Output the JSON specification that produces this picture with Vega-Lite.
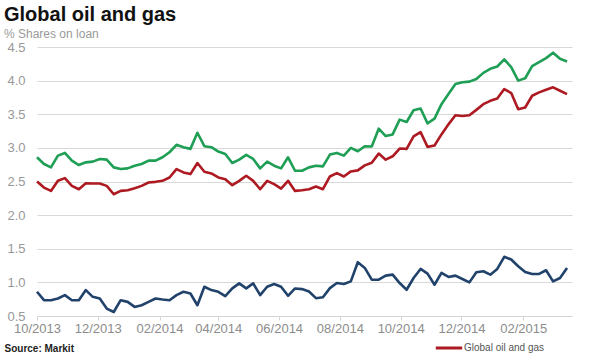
{
  "$schema": "https://vega.github.io/schema/vega-lite/v6.json",
  "width": 535,
  "height": 269,
  "autosize": {"type": "none"},
  "padding": {"left": 37, "top": 47, "right": 18, "bottom": 44},
  "background": "white",
  "config": {"font": "Liberation Sans", "view": {"stroke": null}},
  "title": {
    "text": "Global oil and gas",
    "subtitle": "% Shares on loan",
    "anchor": "start",
    "frame": "group",
    "dx": -33,
    "offset": 1,
    "fontSize": 20,
    "fontWeight": "bold",
    "color": "#111111",
    "subtitleFontSize": 12,
    "subtitleColor": "#9a9a9a",
    "subtitlePadding": 4
  },
  "datasets": {
    "pts": [
      {"date": "2013-10-01", "series": "Upper series", "value": 2.86},
      {"date": "2013-10-08", "series": "Upper series", "value": 2.76},
      {"date": "2013-10-15", "series": "Upper series", "value": 2.71},
      {"date": "2013-10-22", "series": "Upper series", "value": 2.885},
      {"date": "2013-10-29", "series": "Upper series", "value": 2.925},
      {"date": "2013-11-05", "series": "Upper series", "value": 2.81},
      {"date": "2013-11-12", "series": "Upper series", "value": 2.745},
      {"date": "2013-11-19", "series": "Upper series", "value": 2.785},
      {"date": "2013-11-26", "series": "Upper series", "value": 2.795},
      {"date": "2013-12-03", "series": "Upper series", "value": 2.835},
      {"date": "2013-12-10", "series": "Upper series", "value": 2.825},
      {"date": "2013-12-17", "series": "Upper series", "value": 2.71},
      {"date": "2013-12-24", "series": "Upper series", "value": 2.685},
      {"date": "2013-12-31", "series": "Upper series", "value": 2.695},
      {"date": "2014-01-07", "series": "Upper series", "value": 2.735},
      {"date": "2014-01-14", "series": "Upper series", "value": 2.76},
      {"date": "2014-01-21", "series": "Upper series", "value": 2.81},
      {"date": "2014-01-28", "series": "Upper series", "value": 2.81},
      {"date": "2014-02-04", "series": "Upper series", "value": 2.86},
      {"date": "2014-02-11", "series": "Upper series", "value": 2.935},
      {"date": "2014-02-18", "series": "Upper series", "value": 3.045},
      {"date": "2014-02-25", "series": "Upper series", "value": 3.01},
      {"date": "2014-03-04", "series": "Upper series", "value": 2.985},
      {"date": "2014-03-11", "series": "Upper series", "value": 3.225},
      {"date": "2014-03-18", "series": "Upper series", "value": 3.025},
      {"date": "2014-03-25", "series": "Upper series", "value": 3.01},
      {"date": "2014-04-01", "series": "Upper series", "value": 2.945},
      {"date": "2014-04-08", "series": "Upper series", "value": 2.91},
      {"date": "2014-04-15", "series": "Upper series", "value": 2.775},
      {"date": "2014-04-22", "series": "Upper series", "value": 2.825},
      {"date": "2014-04-29", "series": "Upper series", "value": 2.895},
      {"date": "2014-05-06", "series": "Upper series", "value": 2.835},
      {"date": "2014-05-13", "series": "Upper series", "value": 2.695},
      {"date": "2014-05-20", "series": "Upper series", "value": 2.795},
      {"date": "2014-05-27", "series": "Upper series", "value": 2.735},
      {"date": "2014-06-03", "series": "Upper series", "value": 2.695},
      {"date": "2014-06-10", "series": "Upper series", "value": 2.86},
      {"date": "2014-06-17", "series": "Upper series", "value": 2.66},
      {"date": "2014-06-24", "series": "Upper series", "value": 2.66},
      {"date": "2014-07-01", "series": "Upper series", "value": 2.71},
      {"date": "2014-07-08", "series": "Upper series", "value": 2.735},
      {"date": "2014-07-15", "series": "Upper series", "value": 2.725},
      {"date": "2014-07-22", "series": "Upper series", "value": 2.9},
      {"date": "2014-07-29", "series": "Upper series", "value": 2.925},
      {"date": "2014-08-05", "series": "Upper series", "value": 2.885},
      {"date": "2014-08-12", "series": "Upper series", "value": 3.0},
      {"date": "2014-08-19", "series": "Upper series", "value": 2.95},
      {"date": "2014-08-26", "series": "Upper series", "value": 3.025},
      {"date": "2014-09-02", "series": "Upper series", "value": 3.02},
      {"date": "2014-09-09", "series": "Upper series", "value": 3.285},
      {"date": "2014-09-16", "series": "Upper series", "value": 3.175},
      {"date": "2014-09-23", "series": "Upper series", "value": 3.2},
      {"date": "2014-09-30", "series": "Upper series", "value": 3.42},
      {"date": "2014-10-07", "series": "Upper series", "value": 3.385},
      {"date": "2014-10-14", "series": "Upper series", "value": 3.56},
      {"date": "2014-10-21", "series": "Upper series", "value": 3.585},
      {"date": "2014-10-28", "series": "Upper series", "value": 3.365},
      {"date": "2014-11-04", "series": "Upper series", "value": 3.435},
      {"date": "2014-11-11", "series": "Upper series", "value": 3.65},
      {"date": "2014-11-18", "series": "Upper series", "value": 3.8},
      {"date": "2014-11-25", "series": "Upper series", "value": 3.95},
      {"date": "2014-12-02", "series": "Upper series", "value": 3.975},
      {"date": "2014-12-09", "series": "Upper series", "value": 3.985},
      {"date": "2014-12-16", "series": "Upper series", "value": 4.025},
      {"date": "2014-12-23", "series": "Upper series", "value": 4.115},
      {"date": "2014-12-30", "series": "Upper series", "value": 4.175},
      {"date": "2015-01-06", "series": "Upper series", "value": 4.21},
      {"date": "2015-01-13", "series": "Upper series", "value": 4.315},
      {"date": "2015-01-20", "series": "Upper series", "value": 4.2},
      {"date": "2015-01-27", "series": "Upper series", "value": 4.0},
      {"date": "2015-02-03", "series": "Upper series", "value": 4.035},
      {"date": "2015-02-10", "series": "Upper series", "value": 4.215},
      {"date": "2015-02-17", "series": "Upper series", "value": 4.275},
      {"date": "2015-02-24", "series": "Upper series", "value": 4.335},
      {"date": "2015-03-03", "series": "Upper series", "value": 4.415},
      {"date": "2015-03-10", "series": "Upper series", "value": 4.325},
      {"date": "2015-03-17", "series": "Upper series", "value": 4.285},

      {"date": "2013-10-01", "series": "Global oil and gas", "value": 2.5},
      {"date": "2013-10-08", "series": "Global oil and gas", "value": 2.41},
      {"date": "2013-10-15", "series": "Global oil and gas", "value": 2.36},
      {"date": "2013-10-22", "series": "Global oil and gas", "value": 2.51},
      {"date": "2013-10-29", "series": "Global oil and gas", "value": 2.55},
      {"date": "2013-11-05", "series": "Global oil and gas", "value": 2.435},
      {"date": "2013-11-12", "series": "Global oil and gas", "value": 2.385},
      {"date": "2013-11-19", "series": "Global oil and gas", "value": 2.475},
      {"date": "2013-11-26", "series": "Global oil and gas", "value": 2.47},
      {"date": "2013-12-03", "series": "Global oil and gas", "value": 2.47},
      {"date": "2013-12-10", "series": "Global oil and gas", "value": 2.435},
      {"date": "2013-12-17", "series": "Global oil and gas", "value": 2.31},
      {"date": "2013-12-24", "series": "Global oil and gas", "value": 2.36},
      {"date": "2013-12-31", "series": "Global oil and gas", "value": 2.37},
      {"date": "2014-01-07", "series": "Global oil and gas", "value": 2.4},
      {"date": "2014-01-14", "series": "Global oil and gas", "value": 2.435},
      {"date": "2014-01-21", "series": "Global oil and gas", "value": 2.485},
      {"date": "2014-01-28", "series": "Global oil and gas", "value": 2.495},
      {"date": "2014-02-04", "series": "Global oil and gas", "value": 2.51},
      {"date": "2014-02-11", "series": "Global oil and gas", "value": 2.56},
      {"date": "2014-02-18", "series": "Global oil and gas", "value": 2.685},
      {"date": "2014-02-25", "series": "Global oil and gas", "value": 2.635},
      {"date": "2014-03-04", "series": "Global oil and gas", "value": 2.61},
      {"date": "2014-03-11", "series": "Global oil and gas", "value": 2.775},
      {"date": "2014-03-18", "series": "Global oil and gas", "value": 2.645},
      {"date": "2014-03-25", "series": "Global oil and gas", "value": 2.62},
      {"date": "2014-04-01", "series": "Global oil and gas", "value": 2.56},
      {"date": "2014-04-08", "series": "Global oil and gas", "value": 2.535},
      {"date": "2014-04-15", "series": "Global oil and gas", "value": 2.445},
      {"date": "2014-04-22", "series": "Global oil and gas", "value": 2.51},
      {"date": "2014-04-29", "series": "Global oil and gas", "value": 2.585},
      {"date": "2014-05-06", "series": "Global oil and gas", "value": 2.51},
      {"date": "2014-05-13", "series": "Global oil and gas", "value": 2.385},
      {"date": "2014-05-20", "series": "Global oil and gas", "value": 2.51},
      {"date": "2014-05-27", "series": "Global oil and gas", "value": 2.46},
      {"date": "2014-06-03", "series": "Global oil and gas", "value": 2.395},
      {"date": "2014-06-10", "series": "Global oil and gas", "value": 2.51},
      {"date": "2014-06-17", "series": "Global oil and gas", "value": 2.36},
      {"date": "2014-06-24", "series": "Global oil and gas", "value": 2.37},
      {"date": "2014-07-01", "series": "Global oil and gas", "value": 2.385},
      {"date": "2014-07-08", "series": "Global oil and gas", "value": 2.425},
      {"date": "2014-07-15", "series": "Global oil and gas", "value": 2.385},
      {"date": "2014-07-22", "series": "Global oil and gas", "value": 2.575},
      {"date": "2014-07-29", "series": "Global oil and gas", "value": 2.625},
      {"date": "2014-08-05", "series": "Global oil and gas", "value": 2.575},
      {"date": "2014-08-12", "series": "Global oil and gas", "value": 2.65},
      {"date": "2014-08-19", "series": "Global oil and gas", "value": 2.665},
      {"date": "2014-08-26", "series": "Global oil and gas", "value": 2.74},
      {"date": "2014-09-02", "series": "Global oil and gas", "value": 2.78},
      {"date": "2014-09-09", "series": "Global oil and gas", "value": 2.915},
      {"date": "2014-09-16", "series": "Global oil and gas", "value": 2.825},
      {"date": "2014-09-23", "series": "Global oil and gas", "value": 2.875},
      {"date": "2014-09-30", "series": "Global oil and gas", "value": 2.99},
      {"date": "2014-10-07", "series": "Global oil and gas", "value": 2.985},
      {"date": "2014-10-14", "series": "Global oil and gas", "value": 3.17},
      {"date": "2014-10-21", "series": "Global oil and gas", "value": 3.235},
      {"date": "2014-10-28", "series": "Global oil and gas", "value": 3.015},
      {"date": "2014-11-04", "series": "Global oil and gas", "value": 3.035},
      {"date": "2014-11-11", "series": "Global oil and gas", "value": 3.2},
      {"date": "2014-11-18", "series": "Global oil and gas", "value": 3.35},
      {"date": "2014-11-25", "series": "Global oil and gas", "value": 3.485},
      {"date": "2014-12-02", "series": "Global oil and gas", "value": 3.475},
      {"date": "2014-12-09", "series": "Global oil and gas", "value": 3.485},
      {"date": "2014-12-16", "series": "Global oil and gas", "value": 3.565},
      {"date": "2014-12-23", "series": "Global oil and gas", "value": 3.65},
      {"date": "2014-12-30", "series": "Global oil and gas", "value": 3.7},
      {"date": "2015-01-06", "series": "Global oil and gas", "value": 3.735},
      {"date": "2015-01-13", "series": "Global oil and gas", "value": 3.875},
      {"date": "2015-01-20", "series": "Global oil and gas", "value": 3.815},
      {"date": "2015-01-27", "series": "Global oil and gas", "value": 3.575},
      {"date": "2015-02-03", "series": "Global oil and gas", "value": 3.6},
      {"date": "2015-02-10", "series": "Global oil and gas", "value": 3.775},
      {"date": "2015-02-17", "series": "Global oil and gas", "value": 3.825},
      {"date": "2015-02-24", "series": "Global oil and gas", "value": 3.865},
      {"date": "2015-03-03", "series": "Global oil and gas", "value": 3.9},
      {"date": "2015-03-10", "series": "Global oil and gas", "value": 3.85},
      {"date": "2015-03-17", "series": "Global oil and gas", "value": 3.8},

      {"date": "2013-10-01", "series": "Lower series", "value": 0.86},
      {"date": "2013-10-08", "series": "Lower series", "value": 0.735},
      {"date": "2013-10-15", "series": "Lower series", "value": 0.735},
      {"date": "2013-10-22", "series": "Lower series", "value": 0.76},
      {"date": "2013-10-29", "series": "Lower series", "value": 0.81},
      {"date": "2013-11-05", "series": "Lower series", "value": 0.735},
      {"date": "2013-11-12", "series": "Lower series", "value": 0.735},
      {"date": "2013-11-19", "series": "Lower series", "value": 0.885},
      {"date": "2013-11-26", "series": "Lower series", "value": 0.785},
      {"date": "2013-12-03", "series": "Lower series", "value": 0.76},
      {"date": "2013-12-10", "series": "Lower series", "value": 0.61},
      {"date": "2013-12-17", "series": "Lower series", "value": 0.56},
      {"date": "2013-12-24", "series": "Lower series", "value": 0.735},
      {"date": "2013-12-31", "series": "Lower series", "value": 0.71},
      {"date": "2014-01-07", "series": "Lower series", "value": 0.635},
      {"date": "2014-01-14", "series": "Lower series", "value": 0.66},
      {"date": "2014-01-21", "series": "Lower series", "value": 0.71},
      {"date": "2014-01-28", "series": "Lower series", "value": 0.76},
      {"date": "2014-02-04", "series": "Lower series", "value": 0.745},
      {"date": "2014-02-11", "series": "Lower series", "value": 0.735},
      {"date": "2014-02-18", "series": "Lower series", "value": 0.81},
      {"date": "2014-02-25", "series": "Lower series", "value": 0.86},
      {"date": "2014-03-04", "series": "Lower series", "value": 0.835},
      {"date": "2014-03-11", "series": "Lower series", "value": 0.66},
      {"date": "2014-03-18", "series": "Lower series", "value": 0.935},
      {"date": "2014-03-25", "series": "Lower series", "value": 0.885},
      {"date": "2014-04-01", "series": "Lower series", "value": 0.86},
      {"date": "2014-04-08", "series": "Lower series", "value": 0.795},
      {"date": "2014-04-15", "series": "Lower series", "value": 0.91},
      {"date": "2014-04-22", "series": "Lower series", "value": 0.985},
      {"date": "2014-04-29", "series": "Lower series", "value": 0.91},
      {"date": "2014-05-06", "series": "Lower series", "value": 0.985},
      {"date": "2014-05-13", "series": "Lower series", "value": 0.81},
      {"date": "2014-05-20", "series": "Lower series", "value": 0.935},
      {"date": "2014-05-27", "series": "Lower series", "value": 0.975},
      {"date": "2014-06-03", "series": "Lower series", "value": 0.935},
      {"date": "2014-06-10", "series": "Lower series", "value": 0.8},
      {"date": "2014-06-17", "series": "Lower series", "value": 0.91},
      {"date": "2014-06-24", "series": "Lower series", "value": 0.9},
      {"date": "2014-07-01", "series": "Lower series", "value": 0.865},
      {"date": "2014-07-08", "series": "Lower series", "value": 0.765},
      {"date": "2014-07-15", "series": "Lower series", "value": 0.78},
      {"date": "2014-07-22", "series": "Lower series", "value": 0.915},
      {"date": "2014-07-29", "series": "Lower series", "value": 0.99},
      {"date": "2014-08-05", "series": "Lower series", "value": 0.975},
      {"date": "2014-08-12", "series": "Lower series", "value": 1.015},
      {"date": "2014-08-19", "series": "Lower series", "value": 1.3},
      {"date": "2014-08-26", "series": "Lower series", "value": 1.215},
      {"date": "2014-09-02", "series": "Lower series", "value": 1.04},
      {"date": "2014-09-09", "series": "Lower series", "value": 1.04},
      {"date": "2014-09-16", "series": "Lower series", "value": 1.1},
      {"date": "2014-09-23", "series": "Lower series", "value": 1.115},
      {"date": "2014-09-30", "series": "Lower series", "value": 0.99},
      {"date": "2014-10-07", "series": "Lower series", "value": 0.89},
      {"date": "2014-10-14", "series": "Lower series", "value": 1.065},
      {"date": "2014-10-21", "series": "Lower series", "value": 1.2},
      {"date": "2014-10-28", "series": "Lower series", "value": 1.13},
      {"date": "2014-11-04", "series": "Lower series", "value": 0.965},
      {"date": "2014-11-11", "series": "Lower series", "value": 1.14},
      {"date": "2014-11-18", "series": "Lower series", "value": 1.08},
      {"date": "2014-11-25", "series": "Lower series", "value": 1.1},
      {"date": "2014-12-02", "series": "Lower series", "value": 1.05},
      {"date": "2014-12-09", "series": "Lower series", "value": 1.0},
      {"date": "2014-12-16", "series": "Lower series", "value": 1.15},
      {"date": "2014-12-23", "series": "Lower series", "value": 1.165},
      {"date": "2014-12-30", "series": "Lower series", "value": 1.115},
      {"date": "2015-01-06", "series": "Lower series", "value": 1.2},
      {"date": "2015-01-13", "series": "Lower series", "value": 1.38},
      {"date": "2015-01-20", "series": "Lower series", "value": 1.34},
      {"date": "2015-01-27", "series": "Lower series", "value": 1.24},
      {"date": "2015-02-03", "series": "Lower series", "value": 1.155},
      {"date": "2015-02-10", "series": "Lower series", "value": 1.125},
      {"date": "2015-02-17", "series": "Lower series", "value": 1.125},
      {"date": "2015-02-24", "series": "Lower series", "value": 1.18},
      {"date": "2015-03-03", "series": "Lower series", "value": 1.015},
      {"date": "2015-03-10", "series": "Lower series", "value": 1.065},
      {"date": "2015-03-17", "series": "Lower series", "value": 1.215}
    ]
  },
  "data": {"name": "pts"},
  "mark": {"type": "line", "strokeWidth": 2.6, "strokeJoin": "round"},
  "encoding": {
    "x": {
      "field": "date",
      "type": "temporal",
      "scale": {"domain": [{"year": 2013, "month": 10, "date": 1}, {"year": 2015, "month": 3, "date": 22}]},
      "axis": {
        "values": [
          {"year": 2013, "month": 10, "date": 1},
          {"year": 2013, "month": 12, "date": 1},
          {"year": 2014, "month": 2, "date": 1},
          {"year": 2014, "month": 4, "date": 1},
          {"year": 2014, "month": 6, "date": 1},
          {"year": 2014, "month": 8, "date": 1},
          {"year": 2014, "month": 10, "date": 1},
          {"year": 2014, "month": 12, "date": 1},
          {"year": 2015, "month": 2, "date": 1}
        ],
        "format": "%m/%Y",
        "grid": false,
        "domainColor": "#d4d4d4",
        "tickColor": "#d4d4d4",
        "tickSize": 4,
        "labelFontSize": 13,
        "labelColor": "#8c8c8c",
        "labelPadding": 2,
        "labelFlush": false,
        "labelOverlap": false,
        "title": "Source: Markit",
        "titleFontSize": 10,
        "titleFontWeight": "bold",
        "titleColor": "#222222",
        "titleAnchor": "start",
        "titleAlign": "left",
        "titleBaseline": "alphabetic",
        "titleX": -33,
        "titleY": 35
      }
    },
    "y": {
      "field": "value",
      "type": "quantitative",
      "scale": {"domain": [0.5, 4.5], "nice": false, "zero": false},
      "axis": {
        "values": [0.5, 1.0, 1.5, 2.0, 2.5, 3.0, 3.5, 4.0, 4.5],
        "format": ".1f",
        "domain": false,
        "ticks": false,
        "grid": true,
        "gridColor": "#d9d9d9",
        "labelFontSize": 13,
        "labelColor": "#999999",
        "labelPadding": 12,
        "title": null
      }
    },
    "color": {
      "field": "series",
      "type": "nominal",
      "scale": {
        "domain": ["Upper series", "Global oil and gas", "Lower series"],
        "range": ["#1f9e55", "#ad1a22", "#21426a"]
      },
      "legend": {
        "values": ["Global oil and gas"],
        "orient": "none",
        "legendX": 397,
        "legendY": 286,
        "title": null,
        "symbolType": "stroke",
        "symbolStrokeWidth": 3,
        "symbolSize": 700,
        "labelFontSize": 10,
        "labelColor": "#555555",
        "labelOffset": 0
      }
    }
  }
}
